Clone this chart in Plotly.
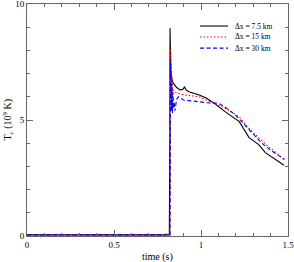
import plotly.graph_objects as go

# Δx = 7.5 km
t_75 = [0.0, 0.2, 0.4, 0.6, 0.8, 0.818, 0.821, 0.822, 0.826, 0.83, 0.84, 0.86, 0.88, 0.895, 0.905, 0.915, 0.93, 0.96, 0.99, 1.03, 1.08, 1.14, 1.18, 1.22, 1.276, 1.33, 1.37, 1.42, 1.477]
T_75 = [0.05, 0.05, 0.05, 0.05, 0.05, 0.05, 4.0, 8.96, 7.2, 6.8, 6.6, 6.4, 6.3, 6.32, 6.42, 6.3, 6.22, 6.15, 6.08, 5.95, 5.7, 5.35, 5.15, 4.93, 4.24, 3.95, 3.59, 3.35, 3.05]

# Δx = 15 km
t_15 = [0.0, 0.2, 0.4, 0.6, 0.8, 0.822, 0.824, 0.825, 0.827, 0.829, 0.831, 0.833, 0.836, 0.84, 0.85, 0.87, 0.9, 0.95, 0.99, 1.03, 1.08, 1.14, 1.18, 1.22, 1.28, 1.33, 1.38, 1.43, 1.48]
T_15 = [0.05, 0.05, 0.05, 0.05, 0.05, 0.05, 3.0, 8.05, 6.2, 7.4, 6.0, 6.9, 6.1, 6.3, 6.2, 6.15, 6.08, 6.04, 6.0, 5.86, 5.7, 5.5, 5.33, 5.13, 4.6, 4.25, 3.9, 3.6, 3.28]

# Δx = 30 km
t_30 = [0.0, 0.2, 0.4, 0.6, 0.8, 0.822, 0.823, 0.824, 0.826, 0.828, 0.83, 0.833, 0.836, 0.839, 0.842, 0.846, 0.85, 0.86, 0.87, 0.9, 0.95, 1.0, 1.05, 1.1, 1.15, 1.2, 1.25, 1.3, 1.35, 1.4, 1.48]
T_30 = [0.05, 0.05, 0.05, 0.05, 0.05, 0.05, 3.0, 7.5, 5.6, 7.0, 5.4, 6.6, 5.3, 6.2, 5.5, 5.8, 5.4, 5.9, 6.0, 5.86, 5.82, 5.78, 5.73, 5.73, 5.5, 5.2, 4.8, 4.4, 4.0, 3.7, 3.3]

series_names = ["Δx = 7.5 km", "Δx = 15 km", "Δx = 30 km"]
series_colors = ["black", "red", "blue"]
series_dashes = ["solid", "1.5px,2px", "4px,2.5px"]

x_ticks = [0, 0.5, 1, 1.5]
x_ticklabels = ["0", "0.5", "1", "1.5"]
y_ticks = [0, 5, 10]
y_ticklabels = ["0", "5", "10"]

font = "Liberation Serif"

fig = go.Figure()
for tx, ty, nm, col, dsh in zip([t_75, t_15, t_30], [T_75, T_15, T_30],
                                series_names, series_colors, series_dashes):
    fig.add_trace(go.Scatter(x=tx, y=ty, mode="lines", name=nm,
                             line=dict(color=col, width=1.1, dash=dsh)))

axis_common = dict(
    showgrid=False, zeroline=False, showline=True, linecolor="#666666", linewidth=1,
    mirror="allticks", ticks="inside", ticklen=6, tickcolor="#666666",
    tickfont=dict(family=font, size=9, color="black"), automargin=False,
    ticklabeloverflow="allow",
)

fig.update_xaxes(range=[0, 1.5], tickvals=x_ticks, ticktext=x_ticklabels,
                 minor=dict(dtick=0.1, ticks="inside", ticklen=3, tickcolor="#666666"),
                 **axis_common)
fig.update_yaxes(range=[0, 10], tickvals=y_ticks, ticktext=y_ticklabels,
                 minor=dict(dtick=1, ticks="inside", ticklen=3, tickcolor="#666666"),
                 **axis_common)

fig.add_annotation(text="time (s)", xref="paper", yref="paper", x=0.5, y=-0.055,
                   xanchor="center", yanchor="top", showarrow=False,
                   font=dict(family=font, size=10, color="black"))
fig.add_annotation(text="T<sub>c</sub> (10<sup>9</sup> K)", xref="paper", yref="paper",
                   x=-0.04, y=0.5, xanchor="right", yanchor="middle", textangle=-90,
                   showarrow=False, font=dict(family=font, size=10, color="black"))

# legend (drawn as shapes + labels in paper coordinates)
leg_y = [0.905, 0.858, 0.810]
for yy, nm, col, dsh in zip(leg_y, series_names, series_colors, series_dashes):
    fig.add_shape(type="line", xref="paper", yref="paper", x0=0.663, x1=0.770, y0=yy, y1=yy,
                  line=dict(color=col, width=1.1, dash=dsh))
    fig.add_annotation(text=nm, xref="paper", yref="paper", x=0.789, y=yy,
                       xanchor="left", yanchor="middle", showarrow=False,
                       font=dict(family=font, size=7.5, color="black"))

fig.update_layout(
    width=294, height=262,
    margin=dict(l=27, r=6, t=4, b=26),
    plot_bgcolor="white", paper_bgcolor="white",
    font=dict(family=font, size=9, color="black"),
    showlegend=False,
)

fig.write_html("out.html", config={"displayModeBar": False},
               post_script="document.body.style.margin='0';document.body.style.overflow='hidden';"
                           "document.documentElement.style.overflow='hidden';")
